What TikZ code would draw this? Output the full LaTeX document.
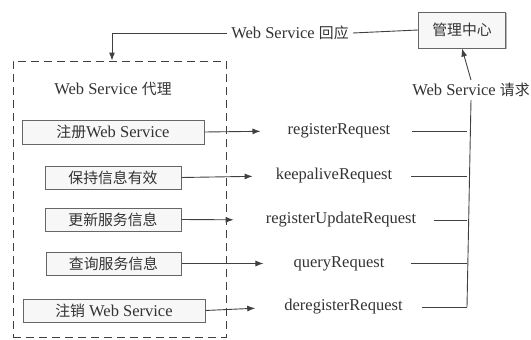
\documentclass[tikz,border=0pt]{standalone}
\usepackage{fontspec}
\setmainfont{Liberation Serif}
\newfontfamily\cjk[Scale=0.9]{Noto Sans CJK SC}
\usetikzlibrary{arrows.meta,shadows}
\begin{document}
\begin{tikzpicture}[x=1pt,y=-1pt,
  every node/.style={text=black!80, font=\fontsize{16.5}{19}\selectfont},
  line/.style={draw=black!75, line width=0.9pt},
  arr/.style={line, -{Latex[length=8pt,width=6pt]}},
  fbox/.style={draw=black!60, line width=1pt, fill=gray!6, inner sep=0pt,
    drop shadow={shadow xshift=1.3pt, shadow yshift=-1.3pt, fill=gray!55, opacity=1}},
  lbl/.style={inner sep=2pt}]
\useasboundingbox (0,0) rectangle (531,340);
% management center
\node[fbox, minimum width=87pt, minimum height=36pt] (mc) at (462,30) {\cjk 管理中心};
% proxy dashed box
\node[draw=black!75, line width=0.9pt, dash pattern=on 8pt off 5pt,
  minimum width=213pt, minimum height=276pt, inner sep=0pt] (proxy) at (119.5,199) {};
\node (ptitle) at (113,89) {Web Service {\cjk 代理}};
% left boxes
\node[fbox, minimum width=182pt, minimum height=24pt] (b1) at (113,132) {{\cjk 注册}Web Service};
\node[fbox, minimum width=136pt, minimum height=23pt] (b2) at (113,177.5) {\cjk 保持信息有效};
\node[fbox, minimum width=136pt, minimum height=23pt] (b3) at (113,219.5) {\cjk 更新服务信息};
\node[fbox, minimum width=135pt, minimum height=23pt] (b4) at (113.5,263.5) {\cjk 查询服务信息};
\node[fbox, minimum width=182pt, minimum height=23pt] (b5) at (114,310.5) {{\cjk 注销} Web Service};
% request labels
\node[lbl] (r1) at (339,131) {registerRequest};
\node[lbl] (r2) at (334,176) {keepaliveRequest};
\node[lbl] (r3) at (341,220) {registerUpdateRequest};
\node[lbl] (r4) at (339,263.5) {queryRequest};
\node[lbl] (r5) at (343.5,307) {deregisterRequest};
% arrows from boxes
\draw[arr, shorten >=25pt] (b1.east) -- (r1.west);
\draw[arr, shorten >=21pt] (b2.east) -- (r2.west);
\draw[arr, shorten >=30pt] (b3.east) -- (r3.west);
\draw[arr, shorten >=28pt] (b4.east) -- (r4.west);
\draw[arr, shorten >=27pt] (b5.east) -- (r5.west);
% bus
\coordinate (bustop) at (467,108);
\coordinate (busbot) at (467,307);
\node[inner sep=3pt] (qlabel) at (471,90) {Web Service {\cjk 请求}};
\draw[line] (busbot) -- (qlabel.south);
\draw[arr] (qlabel.north) -- (mc.south);
\draw[line, shorten <=19pt] (r1.east) -- (r1.east -| bustop);
\draw[line, shorten <=17pt] (r2.east) -- (r2.east -| bustop);
\draw[line, shorten <=16pt] (r3.east) -- (r3.east -| bustop);
\draw[line, shorten <=24pt] (r4.east) -- (r4.east -| bustop);
\draw[line, shorten <=17pt] (r5.east) -- (busbot);
% response
\node[inner sep=4pt] (rlabel) at (290,33) {Web Service {\cjk 回应}};
\coordinate (corner) at (112,33);
\draw[line] (mc.west) -- (rlabel.east);
\draw[arr] (rlabel.west) -- (corner) -- (corner |- proxy.north);
\end{tikzpicture}
\end{document}
